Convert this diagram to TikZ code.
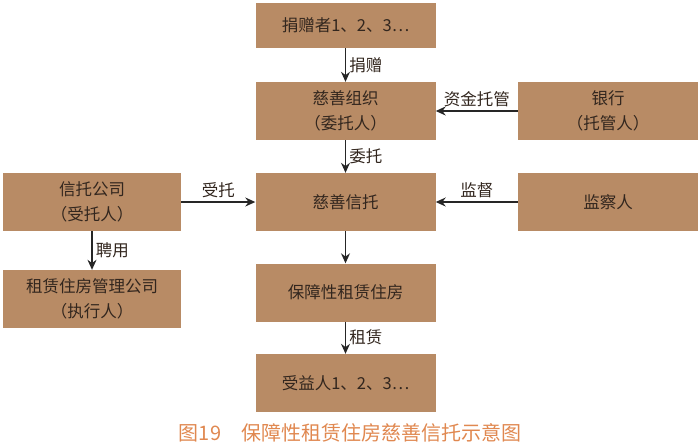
\documentclass[tikz,border=0pt]{standalone}
\usepackage{fontspec}
\setmainfont{Noto Sans CJK SC}
\usepackage{xcolor}
\usepackage[]{tikz}
\usetikzlibrary{positioning,arrows.meta}
\definecolor{boxbrown}{RGB}{184,139,101}
\definecolor{textdark}{RGB}{50,38,30}
\definecolor{capcolor}{RGB}{224,136,80}
\tikzset{main node/.style={rectangle,fill=boxbrown,draw=none,minimum width=180pt,minimum height=58pt,inner sep=0pt,align=center,text=textdark,font=\fontsize{16.5pt}{24.5pt}\selectfont}}
\tikzset{flow/.style={-{Stealth[length=10pt,width=9pt]},line width=1.3pt,color=black!85,font=\fontsize{16.5pt}{18pt}\selectfont,text=textdark}}

\begin{document}
\begin{tikzpicture}[auto, on grid, x=1pt, y=1pt]
      \useasboundingbox (0,0) rectangle (700,-445);
      \node[main node] (trust) at (345.5,-202) {慈善信托};
      \node[main node] (charity) [above = 91pt of trust] {慈善组织\\（委托人）};
      \node[main node, minimum height=45pt] (donor) [above = 85.5pt of charity] {捐赠者1、2、3…};
      \node[main node] (house) [below = 90.5pt of trust] {保障性租赁住房};
      \node[main node] (benef) [below = 90.5pt of house] {受益人1、2、3…};
      \node[main node, minimum width=178pt] (trustco) [left = 253.5pt of trust] {信托公司\\（受托人）};
      \node[main node, minimum width=178pt] (manage) [below = 97pt of trustco] {租赁住房管理公司\\（执行人）};
      \node[main node] (bank) [right = 262.5pt of charity] {银行\\（托管人）};
      \node[main node] (watch) [right = 262.5pt of trust] {监察人};
      \draw[flow] (donor) edge[] node {捐赠} (charity);
      \draw[flow] (charity) edge[] node {委托} (trust);
      \draw[flow] (trust) edge[] node {} (house);
      \draw[flow] (house) edge[] node {租赁} (benef);
      \draw[flow] (bank) edge[] node[swap] {资金托管} (charity);
      \draw[flow] (watch) edge[] node[swap] {监督} (trust);
      \draw[flow] (trustco) edge[] node {受托} (trust);
      \draw[flow] (trustco) edge[] node {聘用} (manage);
      \node[text=capcolor, font=\fontsize{20pt}{22pt}\selectfont] (caption) at (350,-433) {图19\quad 保障性租赁住房慈善信托示意图};
    \end{tikzpicture}
\end{document}
